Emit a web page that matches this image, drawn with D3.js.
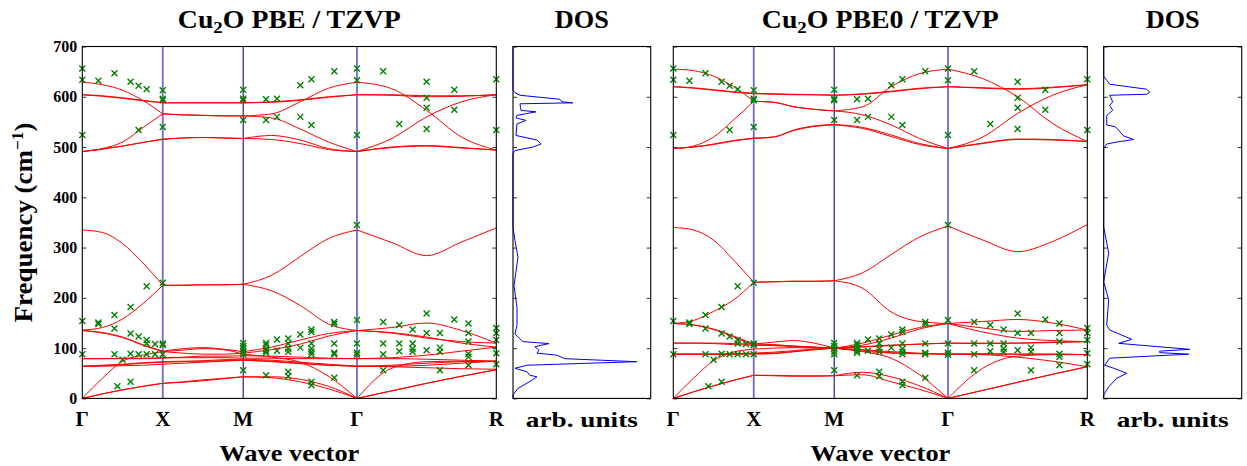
<!DOCTYPE html>
<html>
<head>
<meta charset="utf-8">
<script src="https://cdn.jsdelivr.net/npm/d3@7"></script>
<style>
  body { margin: 0; background: #fff; }
  svg text { font-family: "Liberation Serif", "DejaVu Serif", "Times New Roman", serif !important; font-weight: bold; fill: #000; }
</style>
</head>
<body>
<script>
// Cu2O phonon dispersion (PBE and PBE0, TZVP basis) with the phonon DOS

// path through the Brillouin zone
const qNodes = [0, 0.5, 1.0, 1.7071, 2.5731];
const qNames = ["Γ", "X", "M", "Γ", "R"];
// where the band values below are sampled (5 per segment)
const qSamples = [0, 0.125, 0.25, 0.375, 0.5,
                  0.625, 0.75, 0.875, 1.0,
                  1.1768, 1.3536, 1.5303, 1.7071,
                  1.9236, 2.1401, 2.3566, 2.5731];

const freqTicks = [0, 100, 200, 300, 400, 500, 600, 700];

// PBE bands (cm-1), one row per branch
const pbeBands = [
  [629, 624, 613, 593, 566, 564, 563, 562, 562, 566, 590, 617, 629, 616, 573, 520, 494],
  [604, 601, 597, 592, 588, 588, 588, 588, 588, 590, 594, 600, 604, 603, 600, 601, 604],
  [604, 602, 598, 593, 588, 588, 588, 588, 588, 589, 593, 599, 604, 604, 602, 602, 604],
  [491, 497, 510, 538, 566, 564, 563, 562, 562, 558, 536, 510, 491, 517, 560, 590, 604],
  [491, 496, 502, 509, 515, 518, 519, 518, 517, 523, 514, 497, 491, 500, 503, 499, 494],
  [491, 496, 502, 509, 516, 518, 519, 518, 517, 515, 507, 495, 491, 499, 502, 498, 494],
  [335, 330, 308, 270, 225, 225, 226, 226, 227, 245, 282, 318, 335, 310, 284, 311, 339],
  [136, 141, 158, 188, 225, 225, 226, 226, 227, 214, 185, 148, 135, 141, 150, 135, 110],
  [135, 131, 122, 107, 94, 99, 101, 98, 93, 102, 116, 129, 135, 130, 120, 113, 110],
  [135, 130, 121, 106, 93, 90, 88, 88, 90, 97, 108, 124, 135, 131, 122, 110, 102],
  [79, 79, 79, 79, 80, 81, 81, 81, 80, 80, 79, 79, 79, 81, 86, 94, 102],
  [79, 79, 80, 80, 81, 82, 84, 84, 85, 84, 82, 80, 79, 79, 78, 76, 74],
  [64, 66, 68, 71, 73, 74, 74, 75, 76, 74, 70, 66, 64, 66, 70, 73, 74],
  [64, 64, 65, 66, 68, 70, 72, 74, 76, 73, 69, 66, 64, 63, 61, 59, 58],
  [64, 65, 67, 70, 72, 73, 75, 77, 78, 76, 72, 68, 64, 64, 66, 70, 74],
  [0, 40, 74, 86, 93, 96, 99, 97, 88, 82, 72, 44, 0, 60, 73, 74, 74],
  [0, 9, 17, 24, 30, 33, 37, 40, 43, 43, 38, 24, 0, 15, 30, 44, 57],
  [0, 9, 17, 24, 30, 32, 35, 39, 43, 41, 33, 19, 0, 15, 30, 44, 57]
];

// PBE0 bands (cm-1)
const pbe0Bands = [
  [655, 652, 641, 620, 591, 589, 580, 575, 572, 580, 620, 646, 655, 636, 600, 547, 511],
  [620, 618, 614, 610, 607, 606, 605, 604, 603, 606, 611, 617, 620, 617, 615, 618, 624],
  [620, 617, 613, 609, 606, 605, 604, 604, 603, 605, 610, 616, 620, 618, 616, 619, 624],
  [497, 502, 520, 554, 591, 589, 580, 575, 572, 564, 544, 517, 497, 520, 567, 603, 624],
  [497, 500, 506, 513, 518, 520, 534, 542, 545, 539, 524, 507, 497, 508, 516, 515, 511],
  [497, 500, 505, 512, 517, 520, 533, 541, 544, 537, 521, 505, 497, 507, 515, 514, 511],
  [340, 335, 315, 275, 231, 232, 233, 233, 234, 250, 286, 321, 343, 315, 292, 312, 346],
  [149, 155, 173, 196, 231, 232, 233, 233, 234, 219, 172, 153, 149, 153, 157, 150, 136],
  [149, 146, 138, 124, 108, 112, 115, 110, 100, 110, 126, 141, 149, 140, 133, 135, 136],
  [149, 146, 137, 122, 106, 106, 104, 102, 100, 106, 120, 138, 149, 132, 120, 115, 113],
  [110, 110, 110, 109, 108, 107, 104, 102, 100, 103, 106, 108, 110, 110, 110, 111, 113],
  [110, 110, 109, 107, 106, 105, 103, 101, 100, 102, 105, 108, 110, 109, 110, 112, 113],
  [88, 88, 88, 88, 88, 89, 93, 97, 100, 96, 91, 89, 88, 88, 88, 88, 87],
  [88, 88, 88, 88, 89, 90, 93, 97, 100, 94, 90, 89, 88, 87, 82, 74, 63],
  [88, 88, 88, 89, 90, 92, 95, 98, 100, 97, 93, 90, 88, 89, 88, 88, 87],
  [0, 40, 75, 92, 98, 100, 101, 100, 100, 93, 80, 47, 0, 60, 84, 87, 87],
  [0, 13, 25, 36, 46, 45, 44, 44, 45, 52, 43, 25, 0, 16, 32, 48, 63],
  [0, 13, 25, 36, 46, 46, 45, 45, 45, 47, 33, 18, 0, 16, 32, 48, 63]
];

// experimental points: q position and the frequencies measured there
const expQ = [0, 0.10, 0.20, 0.218, 0.25, 0.30, 0.35, 0.40, 0.452, 0.50,
              1.0, 1.142, 1.21, 1.28, 1.355, 1.424, 1.566, 1.707,
              1.87, 1.97, 2.053, 2.14, 2.223, 2.312, 2.40, 2.573];
const expFreq = [
  [656, 634, 524, 154, 88],
  [632, 151, 148],
  [647, 166, 139, 88],
  [24],
  [77],
  [630, 182, 129, 89, 33],
  [622, 534, 123, 88],
  [615, 223, 116, 109, 88],
  [108, 88],
  [613, 596, 593, 540, 230, 109, 106, 88],
  [614, 596, 593, 554, 110, 104, 99, 93, 88, 56],
  [595, 554, 110, 106, 99, 95, 91, 46],
  [596, 560, 117, 95],
  [119, 109, 99, 93, 53, 44],
  [623, 560, 127, 101],
  [635, 544, 137, 132, 109, 99, 93, 88, 33, 26],
  [651, 152, 148, 109, 91, 88, 41],
  [656, 633, 524, 345, 156, 109, 91, 87],
  [651, 152, 109, 88, 56],
  [546, 146, 109, 94],
  [137, 109, 99, 93],
  [630, 598, 578, 536, 169, 130, 96],
  [130, 101, 93, 56],
  [614, 574, 157],
  [149, 130, 113, 89, 83, 66],
  [635, 534, 140, 130, 116, 90, 68]
];

// phonon DOS (arb. units) against frequency
const dosPbeFreq = [0, 7, 20, 36, 43, 46, 53, 60, 66, 73, 79, 86, 90, 96, 103, 109, 113, 128, 145, 181,
                    224, 281, 314, 340, 487, 493, 500, 506, 514, 523, 546, 553, 558, 563, 570, 573,
                    586, 588, 590, 595, 603, 608, 613, 673, 700];
const dosPbeVal  = [0, 0, 5, 19, 24, 17, 14, 2, 14, 124, 52, 44, 24, 26, 22, 36, 10, 2, 4, 4,
                    1, 5, 2, 0, 0, 2, 20, 28, 24, 3, 4, 13, 3, 4, 23, 8,
                    7, 60, 49, 47, 7, 2, 0, 0, 0];
const dosPbe0Freq = [0, 7, 23, 40, 50, 60, 66, 80, 88, 91, 94, 97.6, 109.5, 117.5, 136, 146, 196, 232,
                     289, 341, 497, 506, 510, 515, 522, 540, 544, 563, 573, 583, 590, 603, 605,
                     609, 615, 625, 633, 641, 700];
const dosPbe0Val  = [0, 0, 5, 13, 23, 10, 1, 6, 85, 56, 56, 86, 15, 28, 6, 3, 5, 0,
                     5, 0, 0, 3, 13, 30, 20, 12, 3, 3, 9, 6, 9, 6, 43,
                     46, 43, 6, 3, 0, 0];

const W = 1247, H = 466;
const FONT = '"Liberation Serif", "DejaVu Serif", serif';
const svg = d3.select("body").append("svg").attr("width", W).attr("height", H)
  .attr("font-family", FONT);

const y = d3.scaleLinear().domain([0, 700]).range([398.4, 46.5]);

function frameTicks(g, x0, x1, labels) {
  const left = d3.axisLeft(y).tickValues(freqTicks).tickSize(-4).tickPadding(5)
    .tickFormat(labels ? d3.format("d") : "");
  const right = d3.axisRight(y).tickValues(freqTicks).tickSize(-4).tickFormat("");
  [[left, x0], [right, x1]].forEach(([ax, xp]) => {
    g.append("g").attr("transform", `translate(${xp},0)`).call(ax)
      .attr("font-family", FONT).attr("font-size", 16)
      .style("color", "#333")
      .call(a => a.select(".domain").remove())
      .selectAll("text").attr("font-family", FONT).style("font-size", "16px").style("fill", "#000");
  });
  g.append("rect").attr("x", x0).attr("y", y(700))
    .attr("width", x1 - x0).attr("height", y(0) - y(700))
    .attr("fill", "none").attr("stroke", "#000").attr("stroke-width", 1.1);
}

function label(g, x, yy, size, len) {
  const t = g.append("text").attr("x", x).attr("y", yy).attr("text-anchor", "middle")
    .attr("font-family", FONT).style("font-size", size + "px");
  if (len) t.attr("textLength", len).attr("lengthAdjust", "spacingAndGlyphs");
  return t;
}

function bandPanel(x0, x1, bands, titleRest, titleLen, labels) {
  const xs = d3.scaleLinear().domain([0, qNodes[4]]).range([x0, x1]);
  const g = svg.append("g");

  qNodes.slice(1, 4).forEach((q, i) => {
    g.append("line").attr("x1", xs(q)).attr("x2", xs(q)).attr("y1", y(0)).attr("y2", y(700))
      .attr("stroke", i === 1 ? "#0a0a8a" : "#6a6ad0")
      .attr("stroke-width", i === 1 ? 1.1 : 1.8);
  });

  const line = d3.line().x(d => xs(d[0])).y(d => y(d[1])).curve(d3.curveMonotoneX);
  bands.forEach(b => {
    for (let s = 0; s < 4; s++) {
      const pts = d3.range(s * 4, s * 4 + 5).map(i => [qSamples[i], b[i]]);
      g.append("path").attr("d", line(pts))
        .attr("fill", "none").attr("stroke", "#ff0000").attr("stroke-width", 1);
    }
  });

  const pts = [];
  expQ.forEach((q, i) => expFreq[i].forEach(f => pts.push([q, f])));
  g.selectAll(".cross").data(pts).enter().append("path")
    .attr("transform", d => `translate(${xs(d[0])},${y(d[1])})`)
    .attr("d", "M-3,-3L3,3M-3,3L3,-3")
    .attr("stroke", "#008000").attr("stroke-width", 1.4).attr("fill", "none");

  frameTicks(g, x0, x1, labels);

  qNodes.forEach((q, i) => label(g, xs(q), 426, 21).text(qNames[i]));

  const cx = (x0 + x1) / 2;
  const t = label(g, cx, 28, 25, titleLen);
  t.append("tspan").text("Cu");
  t.append("tspan").attr("dy", 5).style("font-size", "17px").text("2");
  t.append("tspan").attr("dy", -5).text(titleRest);

  label(g, cx, 461, 24, 140).text("Wave vector");
}

function dosPanel(x0, x1, freq, val) {
  const xd = d3.scaleLinear().domain([0, 138]).range([x0, x1]);
  const g = svg.append("g");
  const line = d3.line().x(d => xd(d[1])).y(d => y(d[0]));
  g.append("path").attr("d", line(freq.map((f, i) => [f, val[i]])))
    .attr("fill", "none").attr("stroke", "#0000ff").attr("stroke-width", 1);
  frameTicks(g, x0, x1, false);
  const cx = (x0 + x1) / 2;
  label(g, cx, 27.5, 25, 54).text("DOS");
  label(g, cx, 426.5, 22, 112).text("arb. units");
}

bandPanel(82.3, 496.3, pbeBands, "O PBE / TZVP", 223, true);
dosPanel(513, 650.7, dosPbeFreq, dosPbeVal);
bandPanel(673.3, 1087.3, pbe0Bands, "O PBE0 / TZVP", 237, false);
dosPanel(1103.7, 1241.7, dosPbe0Freq, dosPbe0Val);

// y axis title
const yl = svg.append("text").attr("transform", "translate(32,222.5) rotate(-90)")
  .attr("text-anchor", "middle").attr("font-family", FONT).style("font-size", "25px")
  .attr("textLength", 200).attr("lengthAdjust", "spacingAndGlyphs");
yl.append("tspan").text("Frequency (cm");
yl.append("tspan").attr("dy", -9).style("font-size", "16px").text("−1");
yl.append("tspan").attr("dy", 9).text(")");
</script>
</body>
</html>
